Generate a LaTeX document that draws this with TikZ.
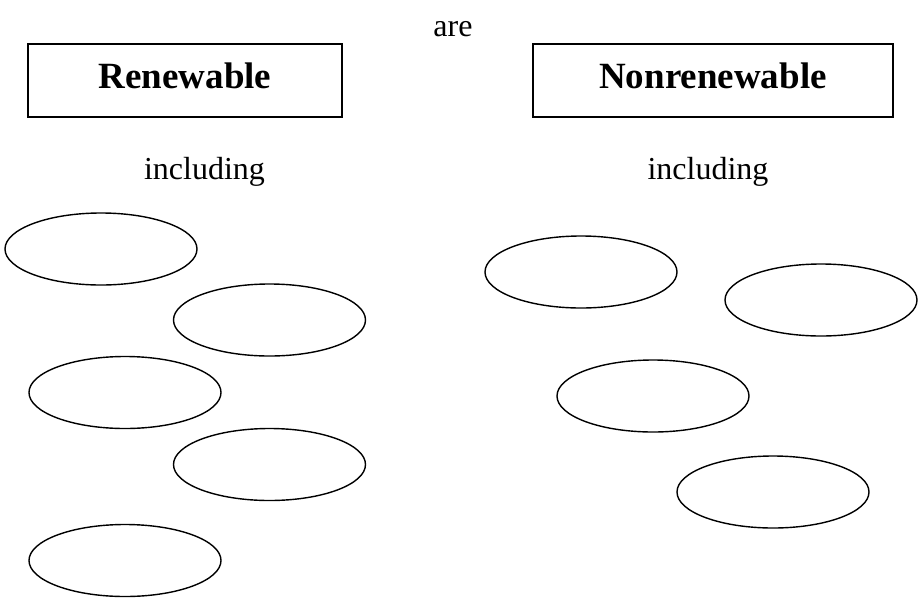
\documentclass[tikz,border=0pt]{standalone}
\usepackage{fontspec}
\setmainfont{Liberation Serif}
\usetikzlibrary{shapes.geometric,positioning}

\begin{document}
\begin{tikzpicture}[
    x=1pt, y=-1pt,
    box/.style={rectangle, draw, line width=1.7pt, minimum height=73pt, inner sep=0pt, text height=26pt, text depth=10pt, font=\fontsize{37}{44}\selectfont\bfseries},
    word/.style={inner sep=0pt, anchor=base, font=\fontsize{32}{38}\selectfont},
    oval/.style={ellipse, draw, line width=1.4pt, minimum width=192pt, minimum height=72pt, inner sep=0pt}
]
    \useasboundingbox (0,0) rectangle (919,598);

    \node[word] (are) at (453,36) {are};
    \node[box, minimum width=314pt] (renew) at (185,80.5) {Renewable};
    \node[box, minimum width=360pt] (nonrenew) at (713,80.5) {Nonrenewable};

    \node[word] (incl1) at (204.5,179) {including};
    \node[word] (incl2) at (708,179) {including};

    % renewable examples
    \node[oval] (r1) at (101,249) {};
    \node[oval] (r2) at (269.5,320) {};
    \node[oval] (r3) at (125,392.5) {};
    \node[oval] (r4) at (269.5,464.5) {};
    \node[oval] (r5) at (125,560.5) {};

    % nonrenewable examples
    \node[oval] (n1) at (581,272) {};
    \node[oval] (n2) at (821,300) {};
    \node[oval] (n3) at (653,396) {};
    \node[oval] (n4) at (773,492) {};
\end{tikzpicture}
\end{document}
